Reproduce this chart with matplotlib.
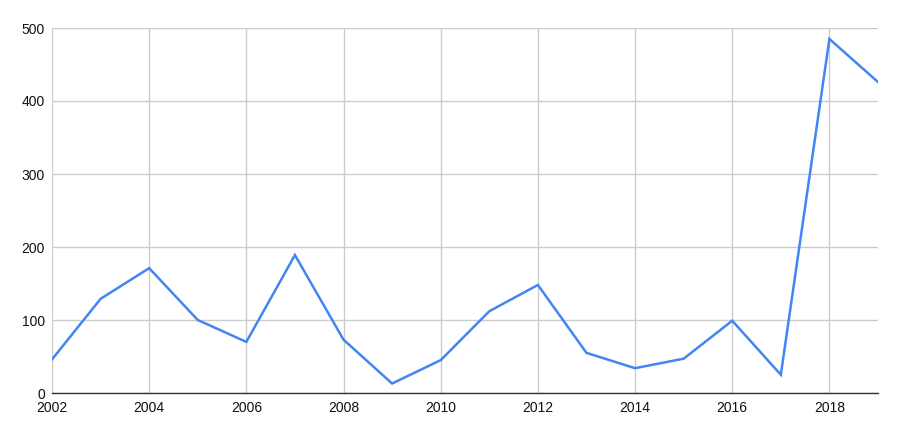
import matplotlib
matplotlib.use("Agg")
import matplotlib.pyplot as plt

plt.rcParams['font.family'] = ['Liberation Sans', 'DejaVu Sans']

years = list(range(2002, 2020))
values = [46, 129, 171, 100, 70, 189, 73, 13, 45, 112, 148, 55, 34, 47, 99, 25, 485, 426]
xticks = list(range(2002, 2019, 2))
yticks = [0, 100, 200, 300, 400, 500]

fig = plt.figure(figsize=(9, 4.36), dpi=100)
ax = fig.add_axes([52/900, 43/436, 826/900, 365/436])

ax.plot(years, values, color="#4285f4", linewidth=1.8, solid_joinstyle="miter", zorder=3)

ax.set_xlim(2002, 2019)
ax.set_ylim(0, 500)
ax.set_xticks(xticks)
ax.set_yticks(yticks)
ax.grid(True, color="#cccccc", linewidth=1.0)
ax.set_axisbelow(True)

for s in ["top", "right", "left"]:
    ax.spines[s].set_visible(False)
ax.spines["bottom"].set_color("#333333")
ax.spines["bottom"].set_linewidth(1.0)
ax.spines["bottom"].set_zorder(4)

ax.tick_params(axis="both", length=0, labelsize=10, colors="#111111")
ax.tick_params(axis="x", pad=6)
ax.tick_params(axis="y", pad=5)
for lab in ax.get_yticklabels():
    lab.set_verticalalignment("center_baseline")

fig.savefig("out.png", dpi=100)
